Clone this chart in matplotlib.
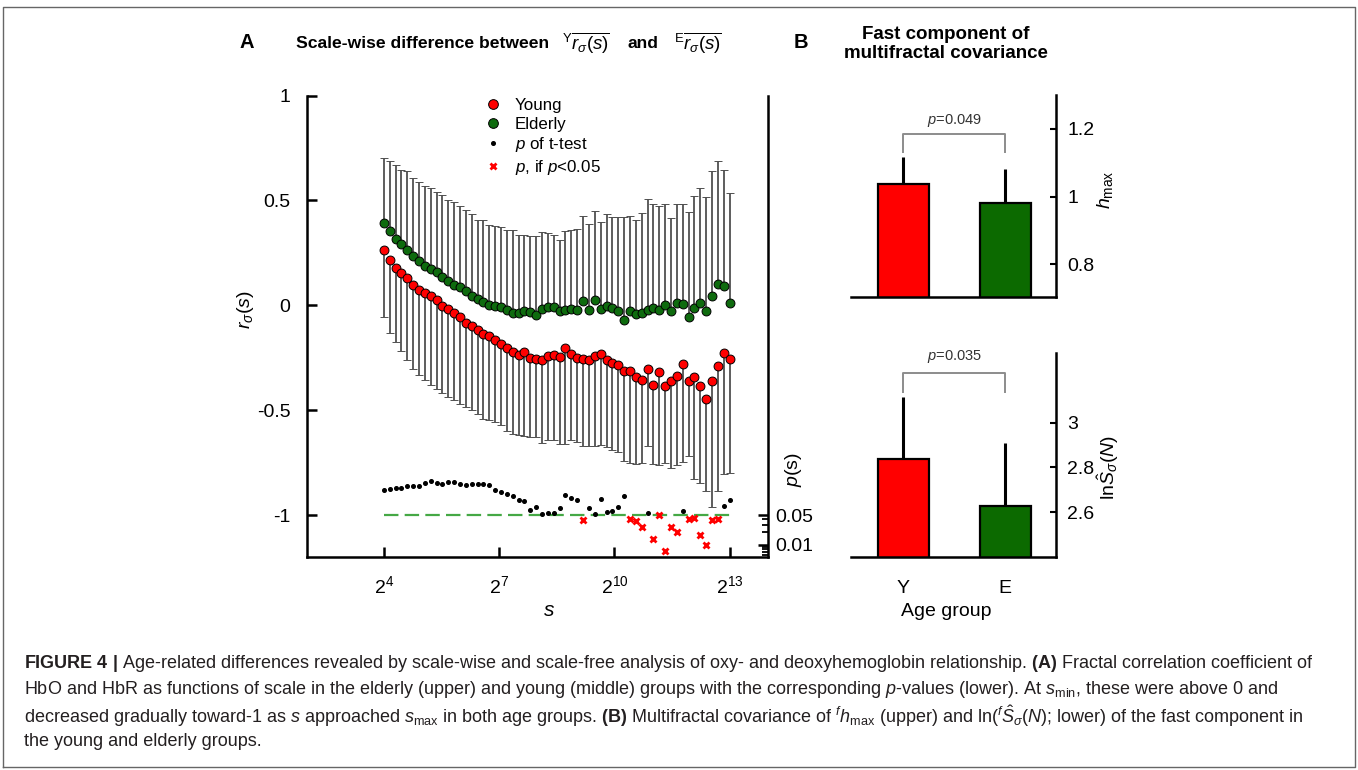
import numpy as np
import matplotlib
matplotlib.use("Agg")
import matplotlib.pyplot as plt
from matplotlib.lines import Line2D
from matplotlib.ticker import NullFormatter, NullLocator

plt.rcParams['font.family'] = ['Liberation Sans', 'DejaVu Sans']
plt.rcParams['mathtext.fontset'] = 'custom'
plt.rcParams['mathtext.rm'] = 'Liberation Sans'
plt.rcParams['mathtext.it'] = 'Liberation Sans:italic'
plt.rcParams['mathtext.bf'] = 'Liberation Sans:bold'

# ---- data ----
# panel A: scales s = 2^4 ... 2^13 (60 scales)
scales = 2 ** np.linspace(4, 13, 60)

young = [0.262, 0.217, 0.179, 0.154, 0.130, 0.095, 0.075, 0.059, 0.043, 0.025,
         -0.003, -0.019, -0.035, -0.056, -0.086, -0.100, -0.116, -0.138, -0.148, -0.167,
         -0.186, -0.206, -0.222, -0.238, -0.222, -0.249, -0.257, -0.259, -0.243, -0.238,
         -0.246, -0.206, -0.230, -0.249, -0.254, -0.262, -0.243, -0.233, -0.262, -0.275,
         -0.286, -0.314, -0.314, -0.344, -0.357, -0.306, -0.381, -0.317, -0.386, -0.362,
         -0.338, -0.278, -0.362, -0.344, -0.386, -0.449, -0.360, -0.290, -0.227, -0.254]
young_err = [0.318, 0.347, 0.354, 0.371, 0.392, 0.401, 0.408, 0.416, 0.424, 0.422,
             0.414, 0.418, 0.417, 0.415, 0.401, 0.400, 0.403, 0.402, 0.400, 0.389,
             0.385, 0.392, 0.394, 0.381, 0.402, 0.378, 0.370, 0.397, 0.400, 0.405,
             0.416, 0.456, 0.413, 0.401, 0.417, 0.408, 0.428, 0.432, 0.413, 0.415,
             0.414, 0.426, 0.436, 0.411, 0.397, 0.364, 0.376, 0.443, 0.364, 0.413,
             0.424, 0.467, 0.358, 0.482, 0.460, 0.434, 0.603, 0.593, 0.576, 0.544]

elderly = [0.392, 0.352, 0.317, 0.294, 0.265, 0.237, 0.210, 0.189, 0.173, 0.157,
           0.135, 0.116, 0.095, 0.087, 0.067, 0.046, 0.032, 0.016, 0.003, -0.005,
           -0.008, -0.021, -0.035, -0.037, -0.027, -0.030, -0.046, -0.016, -0.008, -0.008,
           -0.027, -0.021, -0.016, -0.021, 0.021, -0.024, 0.024, -0.016, -0.005, -0.011,
           -0.027, -0.068, -0.027, -0.040, -0.037, -0.021, -0.011, -0.024, 0.000, -0.029,
           0.011, 0.008, -0.056, -0.011, 0.011, -0.027, 0.043, 0.100, 0.090, 0.011]
elderly_err = [0.311, 0.334, 0.353, 0.352, 0.375, 0.371, 0.377, 0.378, 0.386, 0.383,
               0.389, 0.387, 0.397, 0.384, 0.389, 0.387, 0.376, 0.389, 0.381, 0.383,
               0.381, 0.381, 0.392, 0.370, 0.362, 0.359, 0.376, 0.365, 0.352, 0.341,
               0.337, 0.375, 0.373, 0.384, 0.406, 0.410, 0.425, 0.414, 0.442, 0.432,
               0.448, 0.489, 0.454, 0.448, 0.477, 0.529, 0.492, 0.495, 0.481, 0.446,
               0.470, 0.476, 0.500, 0.533, 0.548, 0.543, 0.595, 0.587, 0.556, 0.524]

p_values = [0.190, 0.201, 0.209, 0.216, 0.232, 0.240, 0.232, 0.277, 0.304, 0.277,
            0.263, 0.297, 0.297, 0.263, 0.254, 0.263, 0.263, 0.263, 0.249, 0.194,
            0.174, 0.154, 0.141, 0.112, 0.108, 0.066, 0.075, 0.053, 0.055, 0.055,
            0.072, 0.150, 0.125, 0.110, 0.038, 0.072, 0.053, 0.118, 0.060, 0.061,
            0.075, 0.140, 0.040, 0.037, 0.027, 0.056, 0.014, 0.049, 0.0072, 0.027,
            0.020, 0.062, 0.040, 0.042, 0.017, 0.010, 0.038, 0.040, 0.082, 0.112]
alpha = 0.05

# panel B
groups = ['Y', 'E']
hmax_mean = [1.037, 0.981]
hmax_err = [0.080, 0.102]
hmax_p = '0.049'
lnS_mean = [2.837, 2.629]
lnS_err = [0.277, 0.279]
lnS_p = '0.035'

RED = '#ff0000'
GREEN = '#0e6b0e'
BAR_GREEN = '#0c6a00'

W, H = 1358, 770
fig = plt.figure(figsize=(W / 100, H / 100), dpi=100)


def box(l, t, r, b):
    return [l / W, 1 - b / H, (r - l) / W, (b - t) / H]


# ---------------- panel A ----------------
ax = fig.add_axes(box(307, 95.5, 768, 557))
ax.set_xscale('log', base=2)
ax.set_xlim(2 ** 2, 2 ** 14)
ax.set_ylim(-1.2, 1.0)

ax.errorbar(scales, elderly, yerr=np.vstack([np.zeros(len(scales)), elderly_err]),
            fmt='o', ms=6.4, mfc=GREEN, mec='black', mew=0.7, ecolor='#505050',
            elinewidth=1.3, capsize=3.2, capthick=1.3, zorder=3)
ax.errorbar(scales, young, yerr=np.vstack([young_err, np.zeros(len(scales))]),
            fmt='o', ms=6.4, mfc=RED, mec='black', mew=0.7, ecolor='#505050',
            elinewidth=1.3, capsize=3.2, capthick=1.3, zorder=3)

for side in ['top', 'right']:
    ax.spines[side].set_visible(False)
for side in ['left', 'bottom']:
    ax.spines[side].set_linewidth(1.8)

ax.set_yticks([-1, -0.5, 0, 0.5, 1])
ax.set_yticklabels(['-1', '-0.5', '0', '0.5', '1'])
ax.set_xticks([2 ** 4, 2 ** 7, 2 ** 10, 2 ** 13])
ax.set_xticklabels([r'$2^{4}$', r'$2^{7}$', r'$2^{10}$', r'$2^{13}$'])
ax.xaxis.set_minor_locator(NullLocator())
ax.tick_params(axis='y', direction='in', length=7, width=1.8, labelsize=14, pad=12)
ax.tick_params(axis='x', direction='in', length=7.5, width=1.8, labelsize=14, pad=13)

# p-values on a log axis at the right
ax2 = ax.twinx()
ax2.set_yscale('log')
dec_per_unit = 4.895            # decades of p per unit of r
ax2.set_ylim(alpha * 10 ** (-0.2 * dec_per_unit), alpha * 10 ** (2.0 * dec_per_unit))
for side in ['left', 'top', 'bottom']:
    ax2.spines[side].set_visible(False)
ax2.spines['right'].set_linewidth(1.8)
ax2.set_yticks([0.01, 0.05])
ax2.set_yticklabels(['0.01', '0.05'])
ax2.set_yticks([0.006, 0.007, 0.008, 0.009, 0.02, 0.03, 0.04], minor=True)
ax2.yaxis.set_minor_formatter(NullFormatter())
ax2.tick_params(axis='y', which='major', direction='in', length=7, width=1.8,
                labelsize=14, pad=5)
ax2.tick_params(axis='y', which='minor', direction='in', length=4.5, width=1.3)

p = np.array(p_values)
sig = p < alpha
ax2.plot([scales[0], scales[-1]], [alpha, alpha], color='#45a845', lw=1.6,
         ls=(0, (6.5, 2.8)), zorder=1)
ax2.plot(scales[~sig], p[~sig], 'o', ms=2.6, color='black', zorder=2)
ax2.plot(scales[sig], p[sig], 'x', ms=5, mew=2, color=RED, zorder=2)

handles = [Line2D([], [], ls='none', marker='o', ms=7, mfc=RED, mec='black', mew=0.7),
           Line2D([], [], ls='none', marker='o', ms=7, mfc=GREEN, mec='black', mew=0.7),
           Line2D([], [], ls='none', marker='o', ms=2.6, color='black'),
           Line2D([], [], ls='none', marker='x', ms=5, mew=2, color=RED)]
labels = ['Young', 'Elderly', r'$p$ of t-test', r'$p$, if $p$<0.05']
ax2.legend(handles, labels, loc='upper left', bbox_to_anchor=(0.385, 0.995),
           frameon=False, fontsize=12.2, handlelength=1.0, handletextpad=0.8,
           labelspacing=0.22, borderaxespad=0, borderpad=0)

fig.text(245 / W, 1 - 310 / H, r'$r_{\sigma}(s)$', rotation=90, fontsize=14,
         ha='center', va='center')
fig.text(549 / W, 1 - 611 / H, r'$s$', fontsize=15, ha='center', va='center')
fig.text(793 / W, 1 - 470 / H, r'$p$(s)', rotation=90, fontsize=14,
         ha='center', va='center')

# ---------------- panel B ----------------
x = np.arange(len(groups))
axes_b = [fig.add_axes(box(851, 95, 1056, 296.7)),
          fig.add_axes(box(851, 353, 1056, 557.3))]
b_data = [(hmax_mean, hmax_err, hmax_p, (0.705, 1.3), [0.8, 1, 1.2], ['0.8', '1', '1.2'],
           1.132, 1.184, 1.224),
          (lnS_mean, lnS_err, lnS_p, (2.4, 3.31), [2.6, 2.8, 3], ['2.6', '2.8', '3'],
           3.137, 3.219, 3.293)]

for axb, (mean, err, pv, ylim, ticks, tlabels, leg, top, ptxt) in zip(axes_b, b_data):
    axb.bar(x, mean, width=0.5, color=[RED, BAR_GREEN], edgecolor='black', lw=1.6, zorder=2)
    axb.errorbar(x, mean, yerr=[[0, 0], err], fmt='none', ecolor='black',
                 elinewidth=2.2, capsize=0, zorder=1)
    axb.plot([0, 0, 1, 1], [leg, top, top, leg], color='#8c8c8c', lw=1.4)
    axb.text(0.5, ptxt, r'$p$=' + pv, ha='center', va='center', fontsize=10.5,
             color='#333333')
    axb.set_xlim(-0.51, 1.5)
    axb.set_ylim(*ylim)
    axb.set_yticks(ticks)
    axb.set_yticklabels(tlabels)
    axb.yaxis.tick_right()
    for side in ['left', 'top']:
        axb.spines[side].set_visible(False)
    for side in ['right', 'bottom']:
        axb.spines[side].set_linewidth(1.8)
    axb.tick_params(axis='y', direction='in', length=4, width=1.5, labelsize=14, pad=8)

axes_b[0].set_xticks([])
axes_b[1].set_xticks(x)
axes_b[1].set_xticklabels(groups)
axes_b[1].tick_params(axis='x', length=0, labelsize=14, pad=16)

fig.text(946 / W, 1 - 612 / H, 'Age group', fontsize=14, ha='center', va='center')
fig.text(1105 / W, 1 - 190 / H, r'$h_{\mathrm{max}}$', rotation=90, fontsize=14,
         ha='center', va='center')
fig.text(1108 / W, 1 - 468 / H, r'ln$\hat{S}_{\sigma}(N)$', rotation=90, fontsize=14,
         ha='center', va='center')

# ---------------- titles ----------------
ty = 1 - 43 / H
fig.text(247 / W, ty, 'A', fontsize=14.5, weight='bold', ha='center', va='center')
fig.text(296 / W, ty, 'Scale-wise difference between', fontsize=12.6, weight='bold',
         ha='left', va='center')
fig.text(562 / W, ty, r'${}^{\mathrm{Y}}\overline{r_{\sigma}(s)}$', fontsize=13.5,
         ha='left', va='center')
fig.text(628 / W, ty, 'and', fontsize=12.6, weight='bold', ha='left', va='center')
fig.text(674 / W, ty, r'${}^{\mathrm{E}}\overline{r_{\sigma}(s)}$', fontsize=13.5,
         ha='left', va='center')
fig.text(801 / W, ty, 'B', fontsize=14.5, weight='bold', ha='center', va='center')
fig.text(946 / W, 1 - 44 / H, 'Fast component of\nmultifractal covariance',
         fontsize=13.5, weight='bold', ha='center', va='center', linespacing=1.2)

# ---------------- caption ----------------
caption = [
    r'$\mathbf{FIGURE\ 4\ |}$ Age-related differences revealed by scale-wise and scale-free '
    r'analysis of oxy- and deoxyhemoglobin relationship. $\mathbf{(A)}$ Fractal correlation coefficient of',
    r'HbO and HbR as functions of scale in the elderly (upper) and young (middle) groups with '
    r'the corresponding $p$-values (lower). At $s_{\mathrm{min}}$, these were above 0 and',
    r'decreased gradually toward-1 as $s$ approached $s_{\mathrm{max}}$ in both age groups. '
    r'$\mathbf{(B)}$ Multifractal covariance of ${}^{f}h_{\mathrm{max}}$ (upper) and '
    r'ln(${}^{f}\hat{S}_{\sigma}(N)$; lower) of the fast component in',
    'the young and elderly groups.',
]
for i, line in enumerate(caption):
    fig.text(24 / W, 1 - (664 + 26 * i) / H, line, fontsize=13.0, color='#231f20',
             ha='left', va='center')

# frame around the figure
fig.add_artist(Line2D([3 / W, 3 / W, 1355 / W, 1355 / W, 3 / W],
                      [1 - 767 / H, 1 - 6.5 / H, 1 - 6.5 / H, 1 - 767 / H, 1 - 767 / H],
                      transform=fig.transFigure, color='#666666', lw=1.0))

fig.savefig('out.png', dpi=100)
